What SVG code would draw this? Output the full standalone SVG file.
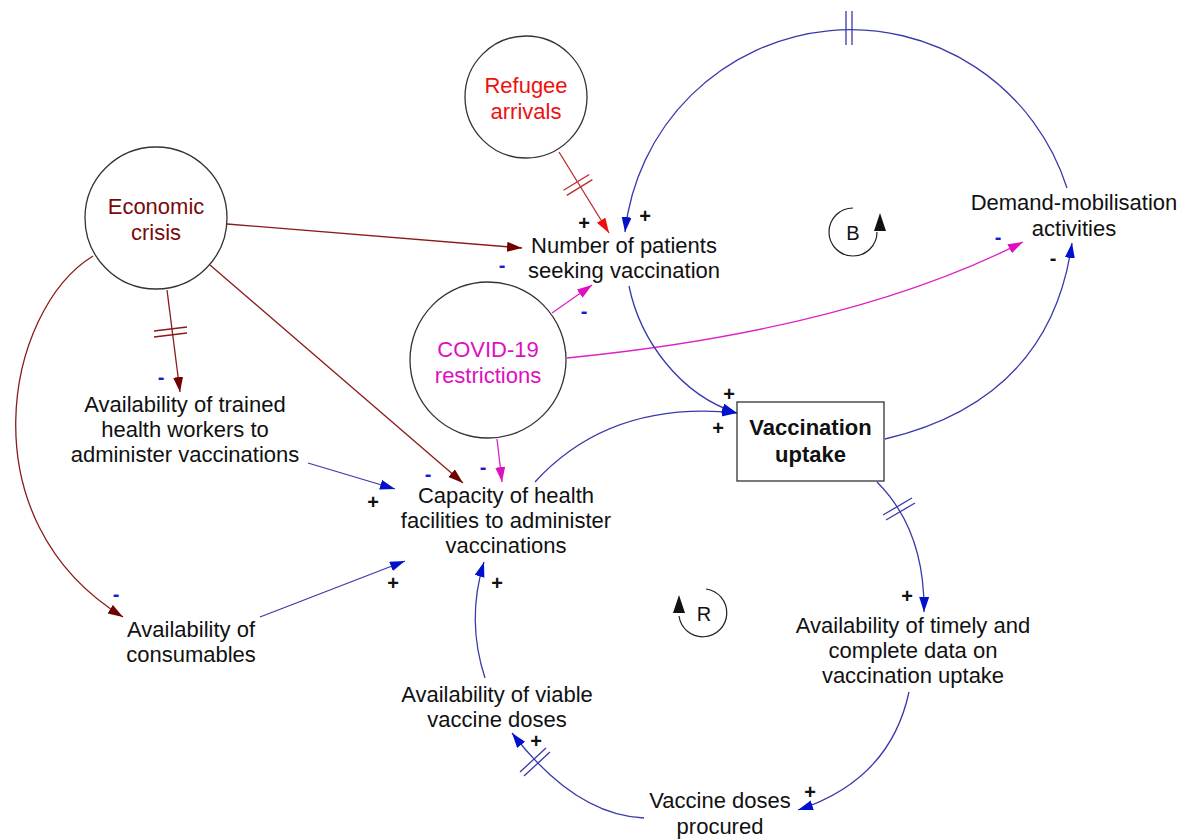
<svg xmlns="http://www.w3.org/2000/svg" width="1185" height="840" viewBox="0 0 1185 840">
<style>
text{font-family:"Liberation Sans",Arial,sans-serif;font-size:22px;fill:#111;text-anchor:middle}
.b{font-weight:bold}
.pol{font-size:20px;font-weight:bold}
.neg{font-size:20px;font-weight:bold;fill:#1a1acc}
.negk{font-size:20px;font-weight:bold;fill:#111}
.node{fill:#fff;stroke:#333;stroke-width:1.3}
.c{fill:none;stroke-width:1.3}
.blue{stroke:#3a3aaa}
.dred{stroke:#8b1a1a}
.red{stroke:#c02a2a}
.mag{stroke:#dd22c8}
.dl{fill:none;stroke-width:1.3}
.loop{fill:none;stroke:#222;stroke-width:1.2}
</style>
<defs>
<marker id="ab" markerUnits="userSpaceOnUse" markerWidth="16" markerHeight="12" refX="15" refY="5" orient="auto"><path d="M0,0 L15,5 L0,10 z" fill="#0010cc"/></marker>
<marker id="ad" markerUnits="userSpaceOnUse" markerWidth="16" markerHeight="12" refX="15" refY="5" orient="auto"><path d="M0,0 L15,5 L0,10 z" fill="#6e0000"/></marker>
<marker id="ar" markerUnits="userSpaceOnUse" markerWidth="16" markerHeight="12" refX="15" refY="5" orient="auto"><path d="M0,0 L15,5 L0,10 z" fill="#ee1010"/></marker>
<marker id="am" markerUnits="userSpaceOnUse" markerWidth="16" markerHeight="12" refX="15" refY="5" orient="auto"><path d="M0,0 L15,5 L0,10 z" fill="#dd10c0"/></marker>
</defs>

<g id="connectors">
<path class="c dred" d="M227,224 L522,248" marker-end="url(#ad)"/>
<path class="c dred" d="M167,290 L180,392" marker-end="url(#ad)"/>
<path class="c dred" d="M210,265 L463,483" marker-end="url(#ad)"/>
<path class="c dred" d="M93,256 C5,310 -35,520 123,617" marker-end="url(#ad)"/>
<path class="c red" d="M559,152 L609,233" marker-end="url(#ar)"/>
<path class="c mag" d="M552,313 L592,285" marker-end="url(#am)"/>
<path class="c mag" d="M567,358 Q850,330 1023,242" marker-end="url(#am)"/>
<path class="c mag" d="M497,439 L502,482" marker-end="url(#am)"/>
<path class="c blue" d="M308,463 L395,489" marker-end="url(#ab)"/>
<path class="c blue" d="M260,617 L405,561" marker-end="url(#ab)"/>
<path class="c blue" d="M485,678 Q466,620 484,562" marker-end="url(#ab)"/>
<path class="c blue" d="M535,482 Q610,400 737,413" marker-end="url(#ab)"/>
<path class="c blue" d="M629,286 C640,340 680,395 737,413" marker-end="url(#ab)"/>
<path class="c blue" d="M885,439 Q1050,400 1072,243" marker-end="url(#ab)"/>
<path class="c blue" d="M1067,188 A227,227 0 0 0 625,232" marker-end="url(#ab)"/>
<path class="c blue" d="M877,482 Q925,530 924,612" marker-end="url(#ab)"/>
<path class="c blue" d="M909,692 Q890,780 798,810" marker-end="url(#ab)"/>
<path class="c blue" d="M644,818 Q575,815 512,733" marker-end="url(#ab)"/>
<!-- delay marks -->
<path class="dl blue" d="M846,11 L846,45 M852,11 L852,45"/>
<path class="dl red" d="M563.6,190.3 L589.2,174.5 M566.8,195.4 L592.4,179.6"/>
<path class="dl dred" d="M154,331 L187,327 M154,337 L187,333"/>
<path class="dl blue" d="M883,515 L912,498 M886,520 L915,503"/>
<path class="dl blue" d="M520,772 L546,748 M524,776 L550,752"/>
</g>

<g id="refugee-arrivals">
<circle class="node" cx="526" cy="97" r="61"/>
<text x="526" y="93" style="fill:#ee1111">Refugee</text>
<text x="526" y="119" style="fill:#ee1111">arrivals</text>
</g>
<g id="economic-crisis">
<circle class="node" cx="156" cy="218" r="71"/>
<text x="156" y="214" style="fill:#7a0a0a">Economic</text>
<text x="156" y="240" style="fill:#7a0a0a">crisis</text>
</g>
<g id="covid-restrictions">
<circle class="node" cx="488" cy="360" r="78"/>
<text x="488" y="357" style="fill:#dd10c0">COVID-19</text>
<text x="488" y="383" style="fill:#dd10c0">restrictions</text>
</g>
<g id="number-of-patients">
<text x="624" y="253">Number of patients</text>
<text x="624" y="278">seeking vaccination</text>
</g>
<g id="demand-mobilisation">
<text x="1074" y="210">Demand-mobilisation</text>
<text x="1074" y="236">activities</text>
</g>
<g id="vaccination-uptake">
<rect class="node" x="737" y="402" width="147" height="79"/>
<text class="b" x="810.5" y="435">Vaccination</text>
<text class="b" x="810.5" y="462">uptake</text>
</g>
<g id="trained-health-workers">
<text x="185" y="412">Availability of trained</text>
<text x="185" y="437">health workers to</text>
<text x="185" y="462">administer vaccinations</text>
</g>
<g id="capacity">
<text x="506" y="503">Capacity of health</text>
<text x="506" y="528">facilities to administer</text>
<text x="506" y="553">vaccinations</text>
</g>
<g id="consumables">
<text x="191" y="637">Availability of</text>
<text x="191" y="662">consumables</text>
</g>
<g id="viable-doses">
<text x="497" y="702">Availability of viable</text>
<text x="497" y="727">vaccine doses</text>
</g>
<g id="doses-procured">
<text x="720" y="808">Vaccine doses</text>
<text x="720" y="834">procured</text>
</g>
<g id="timely-data">
<text x="913" y="633">Availability of timely and</text>
<text x="913" y="658">complete data on</text>
<text x="913" y="683">vaccination uptake</text>
</g>

<g id="loop-B">
<path class="loop" d="M853,208 A24,24 0 1 0 877,232"/>
<path d="M880,213 L874,231 L886,231 z" fill="#111"/>
<text x="853" y="240" style="font-size:20px">B</text>
</g>
<g id="loop-R">
<path class="loop" d="M706,589 A24,24 0 1 1 679,616"/>
<path d="M679,595 L673,613 L685,613 z" fill="#111"/>
<text x="704" y="621" style="font-size:20px">R</text>
</g>

<g id="polarities">
<text class="pol" x="584" y="230">+</text>
<text class="pol" x="645" y="223">+</text>
<text class="neg" x="502" y="272">-</text>
<text class="neg" x="584" y="318">-</text>
<text class="pol" x="729" y="401">+</text>
<text class="pol" x="718" y="435">+</text>
<text class="neg" x="161" y="384">-</text>
<text class="neg" x="428" y="481">-</text>
<text class="neg" x="483" y="474">-</text>
<text class="pol" x="373" y="509">+</text>
<text class="pol" x="393" y="590">+</text>
<text class="pol" x="497" y="590">+</text>
<text class="neg" x="116" y="601">-</text>
<text class="pol" x="907" y="603">+</text>
<text class="pol" x="810" y="799">+</text>
<text class="pol" x="536" y="748">+</text>
<text class="neg" x="998" y="244">-</text>
<text class="negk" x="1053" y="265">-</text>
</g>
</svg>
